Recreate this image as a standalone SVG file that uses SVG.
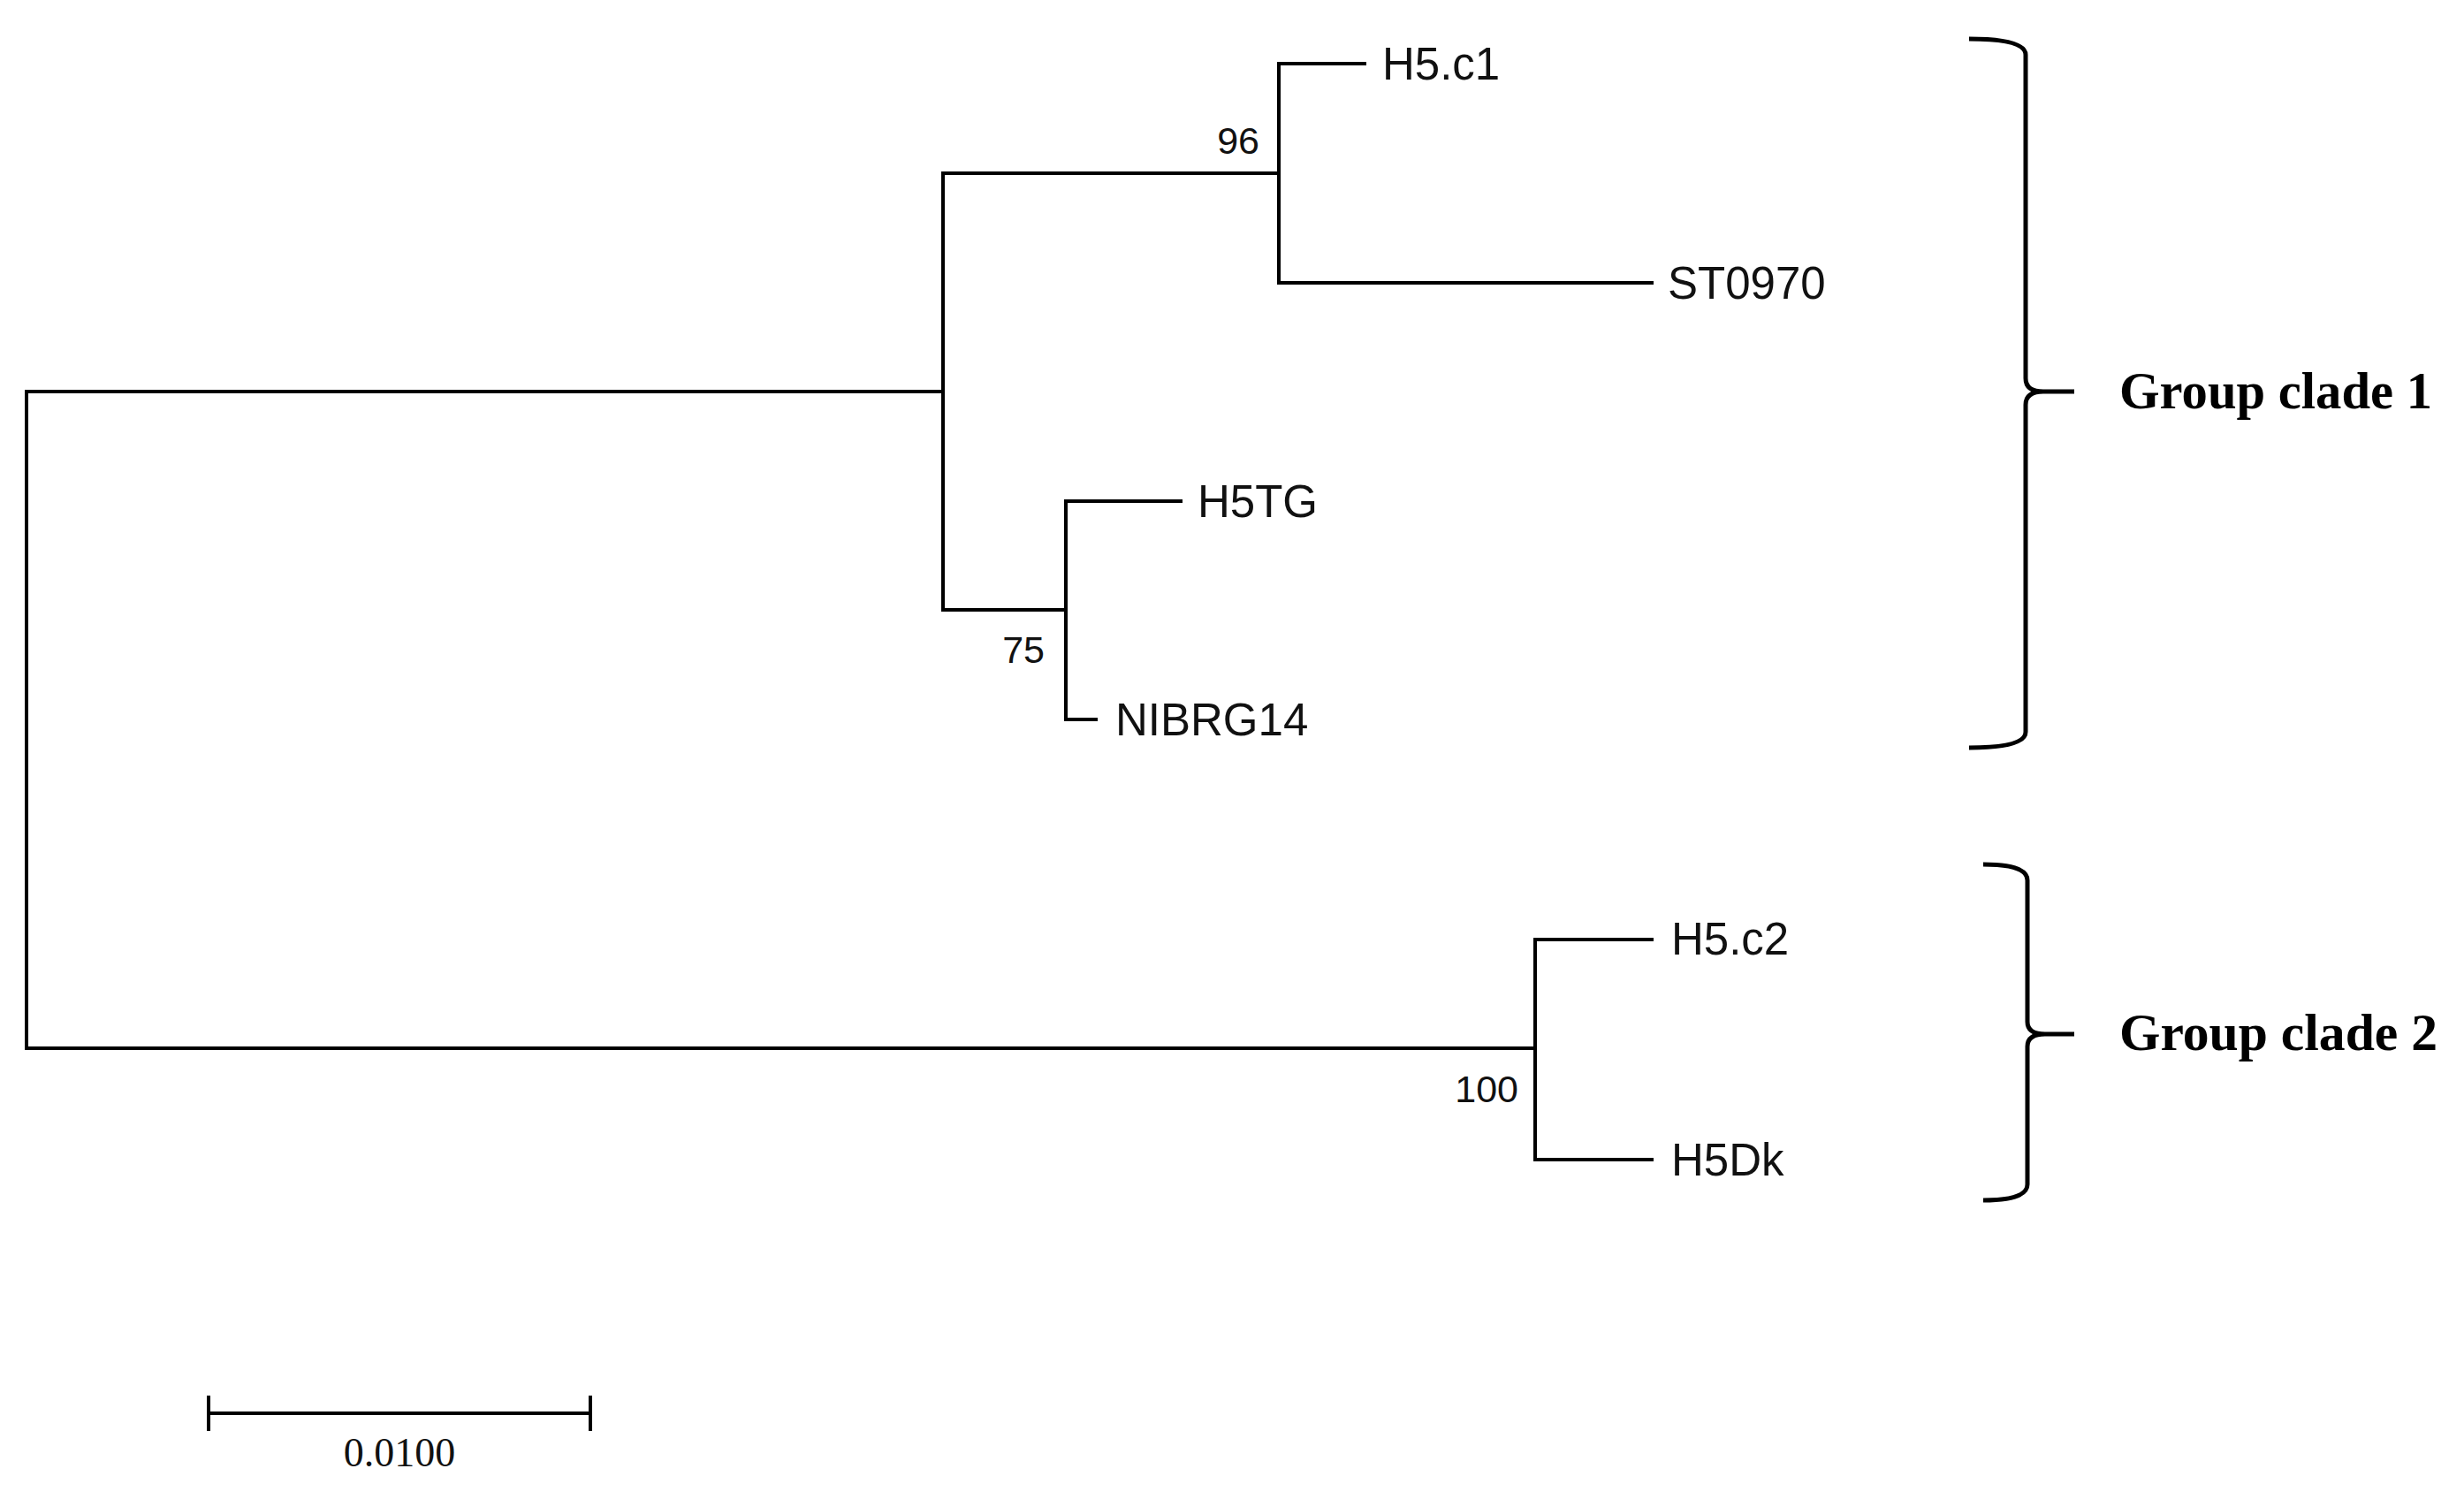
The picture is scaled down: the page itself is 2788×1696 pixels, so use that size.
<svg xmlns="http://www.w3.org/2000/svg" width="2788" height="1696" viewBox="0 0 2788 1696">
<style>
.br{fill:none;stroke:#000;stroke-width:4;stroke-linecap:square}
.lab{font-family:"Liberation Sans",Arial,sans-serif;font-size:51px;fill:#111}
.bs{font-family:"Liberation Sans",Arial,sans-serif;font-size:43px;fill:#111}
.grp{font-family:"Liberation Serif","Times New Roman",serif;font-size:60px;font-weight:bold;fill:#000}
.brace{fill:none;stroke:#000;stroke-width:5;stroke-linejoin:round}
.sc{font-family:"Liberation Serif","Times New Roman",serif;font-size:46px;fill:#111}
</style>
<rect width="2788" height="1696" fill="#fff"/>
<g id="connectors">
<path class="br" d="M30,443 V1186"/>
<path class="br" d="M30,443 H1067"/>
<path class="br" d="M30,1186 H1737"/>
<path class="br" d="M1067,196 V690"/>
<path class="br" d="M1067,196 H1447"/>
<path class="br" d="M1067,690 H1206"/>
<path class="br" d="M1447,72 V320"/>
<path class="br" d="M1447,72 H1544"/>
<path class="br" d="M1447,320 H1869"/>
<path class="br" d="M1206,567 V814"/>
<path class="br" d="M1206,567 H1336"/>
<path class="br" d="M1206,814 H1240"/>
<path class="br" d="M1737,1063 V1312"/>
<path class="br" d="M1737,1063 H1869"/>
<path class="br" d="M1737,1312 H1869"/>
</g>
<g id="node-H5c1"><text class="lab" x="1564" y="90">H5.c1</text></g>
<g id="node-ST0970"><text class="lab" x="1887" y="338">ST0970</text></g>
<g id="node-H5TG"><text class="lab" x="1355" y="585">H5TG</text></g>
<g id="node-NIBRG14"><text class="lab" x="1262" y="832">NIBRG14</text></g>
<g id="node-H5c2"><text class="lab" x="1891" y="1080">H5.c2</text></g>
<g id="node-H5Dk"><text class="lab" x="1891" y="1330">H5Dk</text></g>
<g id="bootstrap-96"><text class="bs" x="1425" y="174" text-anchor="end">96</text></g>
<g id="bootstrap-75"><text class="bs" x="1182" y="750" text-anchor="end">75</text></g>
<g id="bootstrap-100"><text class="bs" x="1718" y="1247" text-anchor="end">100</text></g>
<g id="clade1">
<path class="brace" d="M2228,44 Q2292,44 2292,62 L2292,428 Q2292,443 2312,443 L2347,443 M2312,443 Q2292,443 2292,458 L2292,828 Q2292,846 2228,846"/>
<text class="grp" x="2398" y="462" textLength="354" lengthAdjust="spacingAndGlyphs">Group clade 1</text>
</g>
<g id="clade2">
<path class="brace" d="M2244,978 Q2294,978 2294,996 L2294,1156 Q2294,1170 2314,1170 L2347,1170 M2314,1170 Q2294,1170 2294,1184 L2294,1340 Q2294,1358 2244,1358"/>
<text class="grp" x="2398" y="1188" textLength="360" lengthAdjust="spacingAndGlyphs">Group clade 2</text>
</g>
<g id="scalebar">
<path class="br" d="M236,1599 H668 M236,1581 V1617 M668,1581 V1617"/>
<text class="sc" x="452" y="1659" text-anchor="middle">0.0100</text>
</g>
</svg>
